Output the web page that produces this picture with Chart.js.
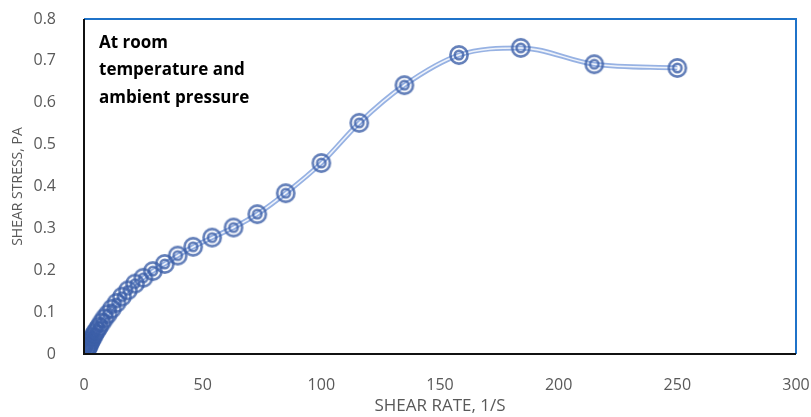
<!DOCTYPE html>
<html>
<head>
<meta charset="utf-8">
<script src="https://cdn.jsdelivr.net/npm/chart.js@4"></script>
<style>
  html, body { margin: 0; padding: 0; background: #fff; }
  #wrap { width: 811px; height: 417px; }
</style>
</head>
<body>
<div id="wrap"><canvas id="shearChart"></canvas></div>
<script>
const shearRate = [1.0, 1.2, 1.4, 1.6, 1.9, 2.2, 2.5, 2.9, 3.4, 4.0, 4.6, 5.4, 6.3, 7.4, 8.6, 10.0, 11.7, 13.7, 16.0, 18.5, 21.5, 25.0, 29.0, 34.0, 39.5, 46.0, 54.0, 63.0, 73.0, 85.0, 100, 116, 135, 158, 184, 215, 250];
const shearStress = [0.011, 0.013, 0.015, 0.017, 0.020, 0.024, 0.028, 0.032, 0.037, 0.043, 0.050, 0.057, 0.065, 0.075, 0.085, 0.095, 0.108, 0.122, 0.137, 0.152, 0.168, 0.182, 0.198, 0.215, 0.235, 0.256, 0.278, 0.302, 0.334, 0.384, 0.456, 0.552, 0.642, 0.714, 0.731, 0.692, 0.683];
const noteLines = ['At room', 'temperature and', 'ambient pressure'];

const points = shearRate.map((x, i) => ({ x: x, y: shearStress[i] }));

// double ring marker
const marker = document.createElement('canvas');
marker.width = 24;
marker.height = 24;
const m = marker.getContext('2d');
m.strokeStyle = 'rgba(60,95,168,0.8)';
m.lineWidth = 2.6;
m.beginPath(); m.arc(12, 12, 8.6, 0, Math.PI * 2); m.stroke();
m.beginPath(); m.arc(12, 12, 4.2, 0, Math.PI * 2); m.stroke();

const frame = {
  id: 'frame',
  afterDatasetsDraw(chart) {
    const { ctx, chartArea: a } = chart;
    ctx.save();
    ctx.lineWidth = 2;
    ctx.strokeStyle = '#1f73c9';
    ctx.beginPath();
    ctx.moveTo(a.left, a.top);
    ctx.lineTo(a.right, a.top);
    ctx.lineTo(a.right, a.bottom);
    ctx.stroke();
    ctx.strokeStyle = '#111';
    ctx.beginPath();
    ctx.moveTo(a.left, a.top);
    ctx.lineTo(a.left, a.bottom);
    ctx.lineTo(a.right, a.bottom);
    ctx.stroke();
    ctx.fillStyle = '#000';
    ctx.font = 'bold 17px "Open Sans"';
    ctx.textBaseline = 'middle';
    noteLines.forEach((t, i) => ctx.fillText(t, a.left + 15, a.top + 24 + i * 27.5));
    ctx.restore();
  }
};

new Chart(document.getElementById('shearChart').getContext('2d'), {
  type: 'scatter',
  data: {
    datasets: [
      {
        data: points,
        showLine: false,
        pointStyle: marker,
        order: 0
      },
      {
        data: points,
        showLine: true,
        borderColor: 'rgba(255,255,255,0.85)',
        borderWidth: 1.5,
        pointRadius: 0,
        cubicInterpolationMode: 'monotone',
        order: 1
      },
      {
        data: points,
        showLine: true,
        borderColor: 'rgba(140,170,224,0.9)',
        borderWidth: 5,
        pointRadius: 0,
        cubicInterpolationMode: 'monotone',
        order: 2
      }
    ]
  },
  options: {
    responsive: true,
    maintainAspectRatio: false,
    animation: false,
    layout: { padding: { left: 0, top: 19, right: 15, bottom: 0 } },
    plugins: { legend: { display: false }, tooltip: { enabled: false } },
    scales: {
      x: {
        min: 0,
        max: 300,
        afterFit: (s) => { s.height = 63; s.paddingLeft = 0; s.paddingRight = 0; },
        grid: { display: false },
        border: { display: false },
        ticks: { stepSize: 50, padding: 14, color: '#595959', font: { family: 'Open Sans', size: 16 } },
        title: { display: true, text: 'SHEAR RATE, 1/S', color: '#595959', font: { family: 'Open Sans', size: 17 }, padding: { top: 0, bottom: 1 } }
      },
      y: {
        min: 0,
        max: 0.8,
        afterFit: (s) => { s.width = 84; s.paddingTop = 0; s.paddingBottom = 0; },
        grid: { display: false },
        border: { display: false },
        ticks: { stepSize: 0.1, padding: 20, color: '#595959', font: { family: 'Open Sans', size: 16 } },
        title: { display: true, text: 'SHEAR STRESS, PA', color: '#595959', font: { family: 'Open Sans', size: 14 }, padding: { top: 10, bottom: 0 } }
      }
    }
  },
  plugins: [frame]
});
</script>
</body>
</html>
